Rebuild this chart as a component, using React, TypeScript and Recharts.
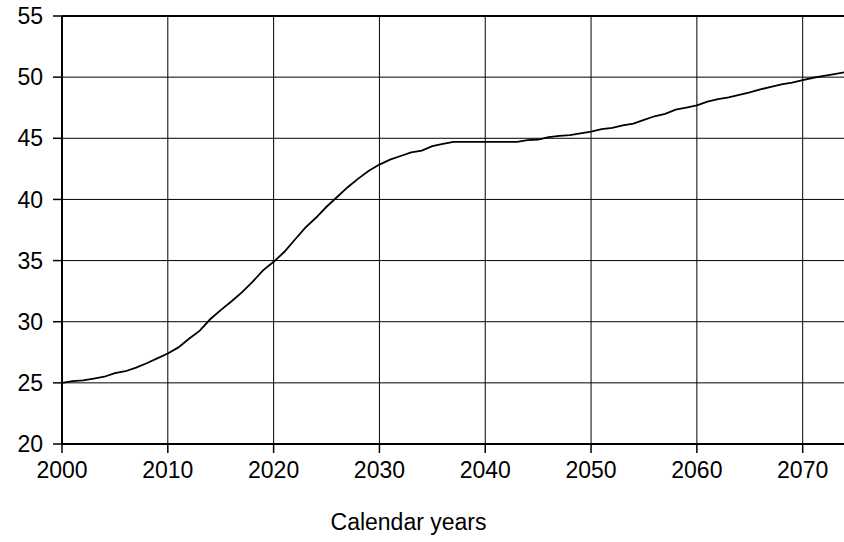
import React from 'react';
import { LineChart, Line, XAxis, YAxis, CartesianGrid, ReferenceLine, Label } from 'recharts';

const years: number[] = [
  2000, 2001, 2002, 2003, 2004, 2005, 2006, 2007, 2008, 2009,
  2010, 2011, 2012, 2013, 2014, 2015, 2016, 2017, 2018, 2019,
  2020, 2021, 2022, 2023, 2024, 2025, 2026, 2027, 2028, 2029,
  2030, 2031, 2032, 2033, 2034, 2035, 2036, 2037, 2038, 2039,
  2040, 2041, 2042, 2043, 2044, 2045, 2046, 2047, 2048, 2049,
  2050, 2051, 2052, 2053, 2054, 2055, 2056, 2057, 2058, 2059,
  2060, 2061, 2062, 2063, 2064, 2065, 2066, 2067, 2068, 2069,
  2070, 2071, 2072, 2073, 2074,
];

const values: number[] = [
  25.0, 25.15, 25.2, 25.35, 25.5, 25.8, 25.95, 26.25, 26.6, 27.0,
  27.4, 27.9, 28.6, 29.25, 30.2, 30.95, 31.65, 32.4, 33.25, 34.2,
  34.9, 35.7, 36.7, 37.7, 38.5, 39.4, 40.2, 41.0, 41.7, 42.35,
  42.85, 43.25, 43.55, 43.85, 44.0, 44.35, 44.55, 44.7, 44.7, 44.7,
  44.7, 44.7, 44.7, 44.7, 44.85, 44.9, 45.1, 45.2, 45.25, 45.4,
  45.55, 45.75, 45.85, 46.05, 46.2, 46.5, 46.8, 47.0, 47.35, 47.5,
  47.7, 48.0, 48.2, 48.35, 48.55, 48.75, 49.0, 49.2, 49.4, 49.55,
  49.75, 49.95, 50.1, 50.25, 50.4,
];

const xTicks: number[] = [2000, 2010, 2020, 2030, 2040, 2050, 2060, 2070];
const yTicks: number[] = [20, 25, 30, 35, 40, 45, 50, 55];
const xTitle = 'Calendar years';

const data = years.map((y, i) => ({ year: y, value: values[i] }));

const font = { fontFamily: '"Liberation Sans", Arial, sans-serif', fontSize: 23, fill: '#000' };

export default function App() {
  return (
    <div style={{ position: 'absolute', left: 0, top: 0, width: 844, height: 542, overflow: 'hidden', background: '#fff' }}>
      <LineChart width={850} height={542} data={data} margin={{ top: 16, right: 5, left: 0, bottom: 0 }}>
        <CartesianGrid stroke="#000" strokeWidth={1} horizontalValues={yTicks} verticalValues={xTicks} />
        <XAxis
          dataKey="year"
          type="number"
          domain={[2000, 2074]}
          ticks={xTicks}
          allowDataOverflow
          height={98}
          tickSize={9}
          tickMargin={9}
          tick={font}
          stroke="#000"
          axisLine={{ stroke: '#000', strokeWidth: 2 }}
          tickLine={{ stroke: '#000', strokeWidth: 1.5 }}
        >
          <Label value={xTitle} position="insideBottom" offset={12} dx={-45} style={font} />
        </XAxis>
        <YAxis
          type="number"
          domain={[20, 55]}
          ticks={yTicks}
          width={62}
          tickSize={9}
          tickMargin={10}
          tick={font}
          axisLine={{ stroke: '#000', strokeWidth: 2 }}
          tickLine={{ stroke: '#000', strokeWidth: 1.5 }}
        />
        <ReferenceLine y={55} stroke="#000" strokeWidth={2} />
        <Line type="linear" dataKey="value" stroke="#000" strokeWidth={1.8} dot={false} isAnimationActive={false} />
      </LineChart>
    </div>
  );
}
